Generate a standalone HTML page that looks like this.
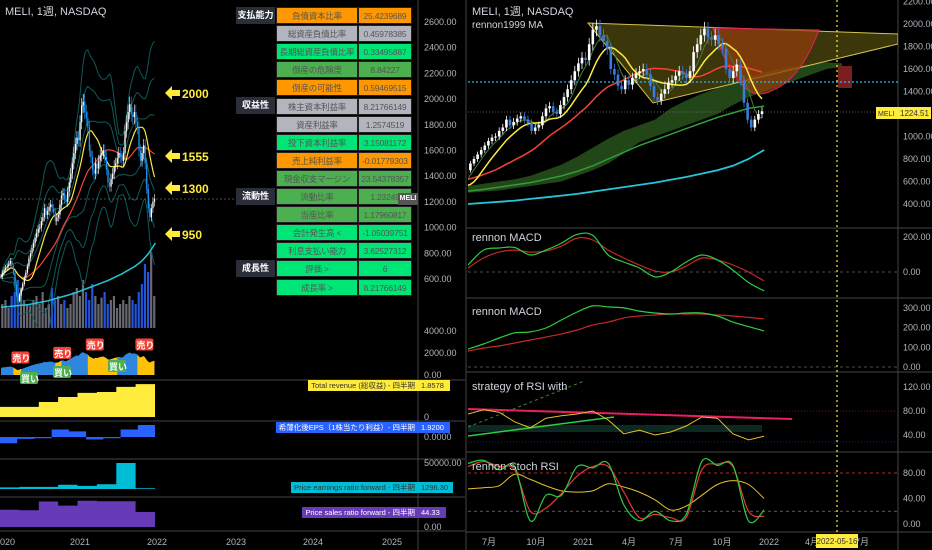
<!DOCTYPE html>
<html><head><meta charset="utf-8">
<style>
html,body{margin:0;padding:0;background:#000;width:932px;height:550px;overflow:hidden;font-family:"Liberation Sans","Noto Sans CJK JP",sans-serif;}
#root{position:relative;width:932px;height:550px;}
svg{position:absolute;left:0;top:0;}
.tb{position:absolute;font-size:8.5px;text-align:center;line-height:16px;height:17px;color:#555;box-sizing:border-box;border:1px solid #222;white-space:nowrap;overflow:hidden;letter-spacing:-0.2px;}
.lb{position:absolute;left:236px;width:39px;height:17px;line-height:17px;background:#2a2e39;color:#fff;font-weight:bold;font-size:9px;text-align:center;white-space:nowrap;overflow:hidden;}
.tag{position:absolute;font-size:7.5px;height:11px;line-height:11px;padding:0 3px;white-space:nowrap;box-sizing:border-box;}
.tl{right:514px;}
</style></head>
<body>
<div id="root">
<svg id="s" width="932" height="550"></svg>

<div class="lb" style="top:7px">支払能力</div>
<div class="lb" style="top:97px">収益性</div>
<div class="lb" style="top:188px">流動性</div>
<div class="lb" style="top:260px">成長性</div>
<div id="tbl"></div>

<div class="tag tl" style="top:380px;background:#ffeb3b;color:#333">Total revenue (総収益) - 四半期</div>
<div class="tag" style="left:418px;top:380px;background:#ffeb3b;color:#333;width:32px">1.8578</div>
<div class="tag tl" style="top:422px;background:#2962ff;color:#fff">希薄化後EPS（1株当たり利益）- 四半期</div>
<div class="tag" style="left:418px;top:422px;background:#2962ff;color:#fff;width:32px">1.9200</div>
<div class="tag tl" style="top:482px;background:#00bcd4;color:#333">Price earnings ratio forward - 四半期</div>
<div class="tag" style="left:418px;top:482px;background:#00bcd4;color:#333;width:35px">1296.30</div>
<div class="tag tl" style="top:507px;background:#673ab7;color:#fff">Price sales ratio forward - 四半期</div>
<div class="tag" style="left:418px;top:507px;background:#673ab7;color:#fff;width:28px">44.33</div>
</div>

<script>
// ---------------- DATA ----------------
const closes=[620,650,670,690,700, 720,740,700,650, 560,470,430,480, 520,560,610,650, 700,760,800,840, 880,920,960,990, 1000,1050,1080,1150,1100, 1130,1160,1180,1150, 1120,1050,1080,1100, 1180,1250,1270,1220,1200, 1280,1350,1420,1500, 1580,1650,1700,1680,
1820,1950,1980,1900, 1850,1780,1600,1550, 1450,1420,1500,1460, 1520,1560,1580,1600,1550, 1450,1350,1320,1380, 1420,1480,1500,1540, 1580,1550,1520,1580, 1750,1820,1900,1960,1880, 1860,1900,1820,1780, 1600,1520,1580,1640, 1500,1300,1150,1080, 1150,1200,1224];
const volumes=[30,35,25,40,45,60,50,35,30,28,35,40,30,45,25,30,50,35,40,30,35,25,30,45,50,40,60,45,35,55,40,30,38,45,30,35,40,25,30,35,30,40,35,30,45,55,80,70,95,40];
const longMA=[380,385,390,395,400,410,420,430,445,460,475,490,510,530,550,570,590,615,640,670,700,740,800,880];
const midMA=[480,490,500,510,515,530,550,570,590,620,650,690,740,800,860,920,970,1020,1070,1120,1170,1210,1250,1270];
const cloudTop=[560,580,600,620,650,700,750,820,900,980,1050,1100,1150,1250,1320,1380,1430,1480,1530,1570,1600,1620,1640,1660,1650];
const cloudBot=[500,510,520,540,560,580,600,650,700,760,850,950,1000,1050,1100,1150,1200,1280,1350,1400,1450,1500,1550,1600,1620];
const sellStart=[8,35,56,88], sellEnd=[13,39,75,99];
const revenue=[0.57,0.57,0.85,1.13,1.36,1.41,1.7,1.86];
const eps=[-1.0,-0.3,-0.2,1.2,0.9,-0.4,-0.2,1.2,1.92];
const peRatio=[3000,4000,4000,8000,6000,9000,50000,1296];
const psRatio=[51,49,75,63,77,76,76,44];
// indicator months May2020..Dec2021
const macd1Fast=[40,125,137,140,97,125,165,215,210,97,57,23,-28,0,57,97,69,11,-60,-108];
const macd1Slow=[23,80,114,125,114,120,148,194,183,125,80,40,6,0,34,80,69,40,0,-51];
const macd2Fast=[91,117,147,173,178,198,239,279,310,305,300,284,274,269,274,274,259,228,205,183];
const macd2Slow=[81,96,107,122,137,152,168,188,213,228,249,259,264,269,269,269,264,259,252,244];
const rsiVals=[75,82,78,62,52,68,72,75,80,65,42,48,40,45,55,70,68,42,32,38];
const stochK=[95,100,85,90,5,45,45,90,88,95,30,5,20,5,15,98,92,92,5,22];
const stochD=[90,98,90,85,20,25,48,75,90,90,50,10,15,10,10,85,94,90,20,12];
const stochSlow=[55,57,60,78,70,60,52,50,52,63,58,50,38,22,28,45,62,68,62,40];
const tableNames=["負債資本比率","総資産負債比率","長期総資産負債比率","倒産の危険度","倒産の可能性","株主資本利益率","資産利益率","投下資本利益率","売上純利益率","現金収支マージン","流動比率","当座比率","会計発生高 <","利息支払い能力","評価 >","成長率 >"];
const tableValues=["25.4239689","0.45978385","0.33495887","8.84227","0.59469515","8.21766149","1.2574519","3.15081172","-0.01779303","23.54378357","1.23249","1.17960817","-1.05039751","3.62527312","6","8.21766149"];
const tableColors=["#ff9800","#b2b5be","#00e676","#4caf50","#ff9800","#b2b5be","#b2b5be","#00e676","#ff9800","#4caf50","#4caf50","#4caf50","#00e676","#00e676","#00e676","#00e676"];

// ---------------- HELPERS ----------------
const S=document.getElementById('s');const NS='http://www.w3.org/2000/svg';
function mk(tag,at,parent){const e=document.createElementNS(NS,tag);for(const k in at)e.setAttribute(k,at[k]);(parent||S).appendChild(e);return e;}
const N=closes.length;
const xL=i=>1+i*1.55;
const xR=i=>762-(N-1-i)*3.6;
const yL=v=>22+(2600-v)*0.1285;
const yR=v=>24+(2000-v)*0.1125;
const mW=m=>m*4.33;
function sma(n){return closes.map((c,i)=>{const s=closes.slice(Math.max(0,i-n+1),i+1);return s.reduce((a,b)=>a+b,0)/s.length;});}
function std(n){const m=sma(n);return closes.map((c,i)=>{const s=closes.slice(Math.max(0,i-n+1),i+1);return Math.sqrt(s.reduce((a,b)=>a+(b-m[i])**2,0)/s.length);});}
function line(arr,xf,yf,stroke,w,name,parent,dash){const d=arr.map((v,i)=>xf(i).toFixed(1)+','+yf(v).toFixed(1)).join(' ');const e=mk('polyline',{points:d,fill:'none',stroke:stroke,'stroke-width':w},parent);if(dash)e.setAttribute('stroke-dasharray',dash);


return e;}
function smooth(arr,xf,yf,stroke,w,name,parent){const P=arr.map((v,i)=>[xf(i),yf(v)]);let d=`M${P[0][0].toFixed(1)},${P[0][1].toFixed(1)}`;
for(let i=0;i<P.length-1;i++){const p0=P[Math.max(0,i-1)],p1=P[i],p2=P[i+1],p3=P[Math.min(P.length-1,i+2)];
d+=` C${(p1[0]+(p2[0]-p0[0])/6).toFixed(1)},${(p1[1]+(p2[1]-p0[1])/6).toFixed(1)} ${(p2[0]-(p3[0]-p1[0])/6).toFixed(1)},${(p2[1]-(p3[1]-p1[1])/6).toFixed(1)} ${p2[0].toFixed(1)},${p2[1].toFixed(1)}`;}
const e=mk('path',{d:d,fill:'none',stroke:stroke,'stroke-width':w},parent);


return e;}
function txt(x,y,s,fill,size,name,anchor,weight){const e=mk('text',{x:x,y:y,fill:fill,'font-size':size,'font-family':'"Liberation Sans","Noto Sans CJK JP",sans-serif'});if(anchor)e.setAttribute('text-anchor',anchor);if(weight)e.setAttribute('font-weight',weight);e.textContent=s;


return e;}

// clips
const defs=mk('defs',{});
const c1=mk('clipPath',{id:'cl'},defs);mk('rect',{x:0,y:0,width:230,height:328},c1);
const c2=mk('clipPath',{id:'cr'},defs);mk('rect',{x:468,y:0,width:430,height:228},c2);
const c3=mk('clipPath',{id:'ci'},defs);mk('rect',{x:468,y:228,width:430,height:304},c3);

// ---------------- FRAME ----------------
[[0,380,465,380],[0,421,465,421],[0,459,465,459],[0,497,465,497],[0,531,465,531],[466,228,932,228],[466,298,932,298],[466,372,932,372],[466,452,932,452],[466,532,932,532]].forEach((l,k)=>{const e=mk('line',{x1:l[0],y1:l[1],x2:l[2],y2:l[3],stroke:'#444','stroke-width':1});

});
[[418,0,418,550],[466,0,466,550],[898,0,898,550]].forEach(l=>{const e=mk('line',{x1:l[0],y1:l[1],x2:l[2],y2:l[3],stroke:'#444','stroke-width':1});

});

// ---------------- LEFT MAIN ----------------
const gL=mk('g',{'clip-path':'url(#cl)'});


volumes.forEach((v,k)=>{const i=k*2+1;const up=closes[i]>=closes[Math.max(0,i-2)];const e=mk('rect',{x:xL(i)-1.3,y:328-v*0.8,width:2.2,height:v*0.8,fill:up?'#787b86':'#2962ff',opacity:0.85},gL);

});
const m20=sma(20),sd20=std(20);
[1,2,3].forEach(k=>{line(m20.map((m,i)=>m+k*sd20[i]),xL,yL,'#0e5a5a',1,'bollinger-upper',gL);line(m20.map((m,i)=>m-k*sd20[i]),xL,yL,'#0e5a5a',1,'bollinger-lower',gL);});
line(longMA,m=>xL(mW(m)),yL,'#26c6da',1.5,'left-long-ma',gL);
line(sma(26),xL,yL,'#f44336',1.2,'left-red-ma',gL);
line(sma(12),xL,yL,'#ffeb3b',1.2,'left-yellow-ma',gL);
closes.forEach((c,i)=>{const o=i?closes[i-1]:c;const up=c>=o;const col=up?'#ffffff':'#2196f3';
const w=mk('line',{x1:xL(i),x2:xL(i),y1:yL(Math.max(o,c)*1.03),y2:yL(Math.min(o,c)*0.97),stroke:col,'stroke-width':0.6},gL);


const b=mk('rect',{x:xL(i)-0.6,y:yL(Math.max(o,c)),width:1.3,height:Math.max(1,Math.abs(yL(o)-yL(c))),fill:col},gL);

});
const hl=mk('line',{x1:0,x2:418,y1:199,y2:199,stroke:'#666','stroke-dasharray':'2,2','stroke-width':0.7});


txt(5,15,'MELI, 1週, NASDAQ','#d1d4dc',11,'left-title');
[[93,'2000'],[156,'1555'],[188,'1300'],[234,'950']].forEach(a=>{const p=mk('polygon',{points:`165,${a[0]} 172,${a[0]-7} 172,${a[0]-3} 180,${a[0]-3} 180,${a[0]+3} 172,${a[0]+3} 172,${a[0]+7}`,fill:'#ffeb3b'});


txt(182,a[0]+5,a[1],'#ffeb3b',12,'level-label',null,'bold');});
for(let v=2600;v>=600;v-=200)txt(424,yL(v)+3,v.toFixed(2),'#b2b5be',9,'left-y-tick');

// ---------------- TABLE ----------------
const tbl=document.getElementById('tbl');
tableNames.forEach((n,i)=>{const top=7+i*18.1;
const a=document.createElement('div');a.className='tb';a.style.cssText=`left:276px;top:${top}px;width:82px;background:${tableColors[i]}`;a.textContent=n;


tbl.appendChild(a);
const b=document.createElement('div');b.className='tb';b.style.cssText=`left:358px;top:${top}px;width:54px;background:${tableColors[i]}`;b.textContent=tableValues[i];


tbl.appendChild(b);});
const mtd=document.createElement('div');mtd.style.cssText='position:absolute;left:398px;top:193px;width:20px;height:12px;background:#555;color:#fff;font-size:7px;font-weight:bold;line-height:12px;text-align:center';mtd.textContent='MELI';


document.getElementById('root').appendChild(mtd);

// ---------------- LEFT SUBPANES ----------------
const yS=v=>375-v*0.0115;
function areaPath(i0,i1){let d=`M${xL(i0)},375`;for(let i=i0;i<=i1;i++)d+=` L${xL(i).toFixed(1)},${yS(closes[i]).toFixed(1)}`;return d+` L${xL(i1)},375 Z`;}
const ba=mk('path',{d:areaPath(0,N-1),fill:'#2e86de'});


sellStart.forEach((s,k)=>{const e=mk('path',{d:areaPath(s,sellEnd[k]),fill:'#ffc107'});


const lx=xL(s)-2,ly=yS(closes[s])-16;
const r=mk('rect',{x:lx,y:ly,width:18,height:12,rx:2,fill:'#f44336'});


txt(lx+1,ly+10,'売り','#fff',9,'sell-label-text',null,'bold');});
[[20,372],[53,366],[108,360]].forEach(p=>{const r=mk('rect',{x:p[0],y:p[1],width:18,height:12,rx:2,fill:'#4caf50'});


txt(p[0]+1,p[1]+10,'買い','#fff',9,'buy-label-text',null,'bold');});
txt(424,334,'4000.00','#b2b5be',9,'signal-y-tick');txt(424,356,'2000.00','#b2b5be',9,'signal-y-tick');txt(424,378,'0.00','#b2b5be',9,'signal-y-tick');
function stepArea(vals,yf,base,fill,name){const w=155/vals.length;let d=`M0,${base}`;vals.forEach((v,i)=>{d+=` L${(i*w).toFixed(1)},${yf(v).toFixed(1)} L${((i+1)*w).toFixed(1)},${yf(v).toFixed(1)}`;});d+=` L155,${base} Z`;const e=mk('path',{d:d,fill:fill});

}
stepArea(revenue,v=>417-v*17.7,417,'#ffeb3b','revenue-area');
txt(424,420,'0','#b2b5be',9,'revenue-y-tick');
stepArea(eps,v=>437-v*6.25,437,'#2962ff','eps-area');
txt(424,440,'0.0000','#b2b5be',9,'eps-y-tick');
stepArea(peRatio,v=>489-v*0.00052,489,'#00bcd4','pe-area');
txt(424,466,'50000.00','#b2b5be',9,'pe-y-tick');
stepArea(psRatio,v=>527-v*0.34,527,'#673ab7','ps-area');
txt(424,530,'0.00','#b2b5be',9,'ps-y-tick');
[['2020',5],['2021',80],['2022',157],['2023',236],['2024',313],['2025',392]].forEach(t=>txt(t[1],545,t[0],'#b2b5be',9,'left-x-tick','middle'));

// ---------------- RIGHT MAIN ----------------
const gR=mk('g',{'clip-path':'url(#cr)'});


let cd='';cloudTop.forEach((v,k)=>{cd+=(k?' L':'M')+xR(mW(k+4)).toFixed(1)+','+yR(v).toFixed(1);});
for(let k=cloudBot.length-1;k>=0;k--)cd+=' L'+xR(mW(k+4)).toFixed(1)+','+yR(cloudBot[k]).toFixed(1);
const cl=mk('path',{d:cd+' Z',fill:'rgba(50,100,35,0.7)'},gR);


const tri=mk('polygon',{points:'588,23 898,34 898,44 653,103',fill:'rgba(120,110,20,0.5)',stroke:'#d4c24a','stroke-width':1},gR);


const cup=mk('path',{d:'M713,28 Q740,110 773,90 Q800,80 819,30 Z',fill:'rgba(150,60,10,0.7)',stroke:'#e91e63','stroke-width':1},gR);


const rc=mk('rect',{x:838,y:66,width:14,height:22,fill:'#7a1f1f'},gR);


const cy=mk('line',{x1:468,x2:898,y1:82,y2:82,stroke:'#29b6f6','stroke-dasharray':'2,2','stroke-width':1.2},gR);


const gy=mk('line',{x1:468,x2:898,y1:112,y2:112,stroke:'#777','stroke-dasharray':'1,2','stroke-width':0.8},gR);


line(longMA,m=>xR(mW(m)),yR,'#26c6da',1.8,'right-long-ma',gR);
line(midMA,m=>xR(mW(m)),yR,'#2e9e3a',1.5,'right-green-ma',gR);
line(sma(26),xR,yR,'#f44336',1.5,'right-red-ma',gR);
line(sma(5),xR,yR,'#3c7a3c',1,'right-thin-ma',gR);
line(sma(10),xR,yR,'#ffeb3b',1.5,'right-yellow-ma',gR);
closes.forEach((c,i)=>{const o=i?closes[i-1]:c;const up=c>=o;const col=up?'#ffffff':'#3d7bd9';
const w=mk('line',{x1:xR(i),x2:xR(i),y1:yR(Math.max(o,c)*1.03),y2:yR(Math.min(o,c)*0.97),stroke:col,'stroke-width':0.8},gR);


const b=mk('rect',{x:xR(i)-1.3,y:yR(Math.max(o,c)),width:2.6,height:Math.max(1,Math.abs(yR(o)-yR(c))),fill:col},gR);

});
txt(472,15,'MELI, 1週, NASDAQ','#d1d4dc',11,'right-title');
txt(472,28,'rennon1999 MA','#d1d4dc',10,'ma-indicator-title');
[2200,2000,1800,1600,1400,1000,800,600,400].forEach(v=>txt(903,yR(v)+3,v.toFixed(2),'#b2b5be',9,'right-y-tick'));
const t1=mk('rect',{x:876,y:107,width:22,height:12,fill:'#ffeb3b'});
txt(878,116,'MELI','#333',7,'meli-tag-text');
const t2=mk('rect',{x:898,y:107,width:33,height:12,fill:'#ffeb3b'});
txt(900,116,'1224.51','#333',8,'last-price-text');

// ---------------- RIGHT INDICATORS ----------------
const gI=mk('g',{'clip-path':'url(#ci)'});


const xm=k=>xR(mW(k+4));
function hdash(y,col,name,dash){const e=mk('line',{x1:468,x2:898,y1:y,y2:y,stroke:col,'stroke-dasharray':dash||'3,3','stroke-width':0.8},gI);}
const yM1=v=>272-v*0.175;
hdash(272,'#666','macd1-zero-line');
smooth(macd1Slow,xm,yM1,'#c62828',1.2,'macd1-signal',gI);
smooth(macd1Fast,xm,yM1,'#2ecc40',1.2,'macd1-line',gI);
txt(472,241,'rennon MACD','#d1d4dc',11,'macd1-title');
txt(903,240,'200.00','#b2b5be',9,'macd1-y-tick');txt(903,275,'0.00','#b2b5be',9,'macd1-y-tick');
const yM2=v=>367-v*0.197;
hdash(367,'#666','macd2-zero-line');
smooth(macd2Slow,xm,yM2,'#c62828',1.2,'macd2-signal',gI);
smooth(macd2Fast,xm,yM2,'#2ecc40',1.2,'macd2-line',gI);
txt(472,315,'rennon MACD','#d1d4dc',11,'macd2-title');
[300,200,100,0].forEach(v=>txt(903,yM2(v)+3,v.toFixed(2),'#b2b5be',9,'macd2-y-tick'));
const yRsi=v=>411-(v-80)*0.6;
const rb=mk('rect',{x:468,y:425,width:294,height:7,fill:'#0d2a22'},gI);
hdash(411,'#8b1a2a','rsi-overbought-line','1,2');hdash(442,'#1a3a8b','rsi-oversold-line','1,2');
const gd=mk('line',{x1:468,y1:427,x2:584,y2:381,stroke:'#3a8a3a','stroke-dasharray':'3,3'},gI);
const gl=mk('line',{x1:468,y1:436,x2:614,y2:417,stroke:'#2ecc40','stroke-width':1.5},gI);
const rl=mk('line',{x1:468,y1:409,x2:792,y2:419,stroke:'#e91e63','stroke-width':2},gI);
line(rsiVals,xm,yRsi,'#e6c229',1,'rsi-line',gI);
txt(472,390,'strategy of RSI with','#d1d4dc',11,'rsi-title');
[120,80,40].forEach(v=>txt(903,yRsi(v)+3,v.toFixed(2),'#b2b5be',9,'rsi-y-tick'));
const ySt=v=>524-v*0.6375;
hdash(ySt(80),'#e53935','stoch-upper-line');hdash(ySt(20),'#777','stoch-lower-line');
smooth(stochSlow,xm,ySt,'#e6c229',1,'stoch-slow-line',gI);
smooth(stochD,xm,ySt,'#e53935',1.2,'stoch-d-line',gI);
smooth(stochK,xm,ySt,'#2ecc40',1.2,'stoch-k-line',gI);
txt(472,470,'rennon Stoch RSI','#d1d4dc',11,'stoch-title');
[80,40,0].forEach(v=>txt(903,ySt(v)+3,v.toFixed(2),'#b2b5be',9,'stoch-y-tick'));
const vl=mk('line',{x1:837,x2:837,y1:0,y2:532,stroke:'#ffeb3b','stroke-dasharray':'2,3','stroke-width':1.2});

[['7月',489],['10月',536],['2021',583],['4月',629],['7月',676],['10月',722],['2022',769],['4月',812],['7月',862]].forEach(t=>txt(t[1],545,t[0],'#b2b5be',9,'right-x-tick','middle'));
const dt=mk('rect',{x:816,y:534,width:42,height:14,fill:'#ffeb3b'});
txt(837,544,'2022-05-16','#333',8,'date-tag-text','middle');
</script>
</body></html>
